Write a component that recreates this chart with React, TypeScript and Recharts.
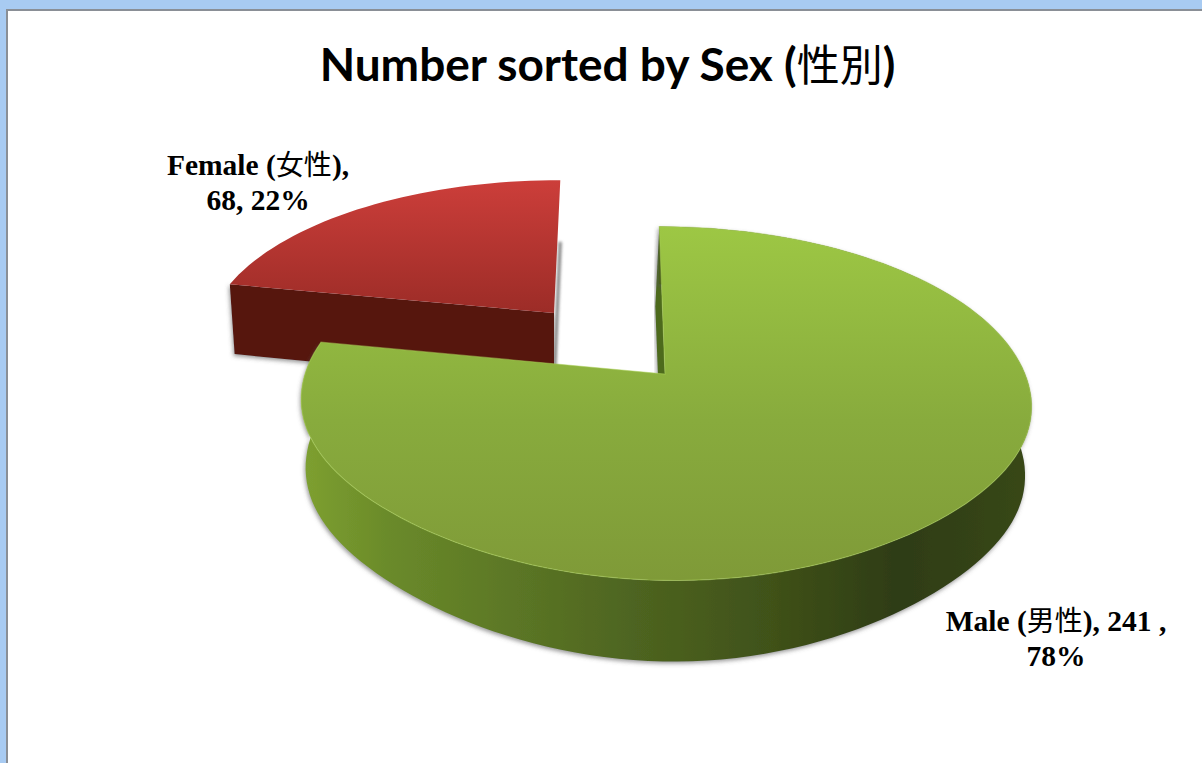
import { PieChart, Pie } from "recharts";

const categories = ["Female", "Male"];
const categoriesZh = ["女性", "男性"];
const counts = [68, 241];

const data = categories.map((name, i) => ({ name, zh: categoriesZh[i], value: counts[i] }));

const TITLE = "Number sorted by Sex (";
const TITLE_ZH = "性別";
const SERIF = '"Liberation Serif", serif';
const CJK = '"Noto Sans CJK JP", sans-serif';

// hand-fitted camera for each slice: ax/ay = slice tip, B/A = half sizes, k = perspective
const CAMERA: Record<string, any> = {
  Female: { ax: 554, ay: 313, B: 342, A: 155, k: 0.167, s: -6, h: 72, dx: 0, sx: 0.985 },
  Male: { ax: 665, ay: 374, B: 360, A: 172, k: 0.167, s: 8, h: 67.5, dx: -1, sx: 0.985 },
};

const project = (deg: number, r: number, cam: any, bottom = false) => {
  const t = (deg * Math.PI) / 180;
  const u = r * Math.sin(t);
  const v = -r * Math.cos(t);
  const w = 1 - cam.k * v;
  const px = (cam.B * u + cam.s * v) / w;
  // the source rim is a bit flatter on the two front corners than a true ellipse
  const corner = v > 0 ? u * u * v * v : 0;
  if (bottom) {
    return [cam.ax + cam.dx + cam.sx * px, cam.ay + (cam.A * v + cam.h) / w - 35 * corner];
  }
  return [cam.ax + px, cam.ay + (cam.A * v) / w - 18 * corner];
};

const arcPoints = (from: number, to: number, cam: any, bottom = false) => {
  const pts = [];
  const n = Math.ceil(Math.abs(to - from) / 2);
  for (let i = 0; i <= n; i++) pts.push(project(from + ((to - from) * i) / n, 1, cam, bottom));
  return pts;
};

const toPath = (pts: number[][], close = true) =>
  "M" + pts.map((p) => `${p[0].toFixed(1)} ${p[1].toFixed(1)}`).join("L") + (close ? "Z" : "");

// Recharts gives angles counter-clockwise from 3 o'clock, the camera wants clockwise from 12
const Slice3D = (props: any) => {
  const { startAngle, endAngle, name } = props;
  const cam = CAMERA[name];
  const a = 90 - startAngle;
  const b = 90 - endAngle;
  const topArc = arcPoints(a, b, cam);
  const bottomArc = arcPoints(a, b, cam, true);
  const tip = project(0, 0, cam);
  const tipLow = project(0, 0, cam, true);
  const key = name.toLowerCase();

  if (name === "Female") {
    const cut = toPath([tip, project(a, 1, cam), project(a, 1, cam, true), tipLow]);
    return (
      <g>
        {/* soft edge of the hidden back wall */}
        <path d={toPath([project(b, 1, cam, true), tipLow], false)} stroke="#777" strokeWidth={3} fill="none" filter="url(#blurEdge)" />
        <path d={cut} fill="#571611" filter="url(#sliceShadow)" />
        <path d={toPath([tip, ...topArc])} fill={`url(#${key}Top)`} />
      </g>
    );
  }

  const outer = project(a, 1, cam);
  const sliver = toPath([tip, outer, [outer[0] - 4, outer[1] + 80], [tip[0] - 4, tip[1] + 80]]);
  const band = toPath([...topArc, ...[...bottomArc].reverse()]);
  return (
    <g>
      <path d={sliver} fill="#4d6a1c" filter="url(#sliceShadow)" />
      <path d={band} fill={`url(#${key}Side)`} filter="url(#sliceShadow)" />
      <path
        d={toPath([tip, ...topArc])}
        fill={`url(#${key}Top)`}
        stroke="#a9cf58"
        strokeOpacity={0.5}
        strokeWidth={1.2}
      />
    </g>
  );
};

const LABELS: Record<string, any> = {
  Female: { x: 258, y: 175, breakAfterName: true },
  Male: { x: 1056, y: 631, breakAfterName: false },
};

const SliceLabel = (props: any) => {
  const { name, value, percent, payload } = props;
  const pos = LABELS[name];
  const pct = `${Math.round(percent * 100)}%`;
  const zh = payload?.zh ?? categoriesZh[categories.indexOf(name)];
  const head = pos.breakAfterName ? ")," : `), ${value} ,`;
  const second = pos.breakAfterName ? `${value}, ${pct}` : pct;
  return (
    <text
      x={pos.x}
      y={pos.y}
      textAnchor="middle"
      fontFamily={SERIF}
      fontWeight={700}
      fontSize={29.5}
      fill="#000"
    >
      <tspan>{name} (</tspan>
      <tspan fontFamily={CJK} fontWeight={400} fontSize={28}>
        {zh}
      </tspan>
      <tspan>{head}</tspan>
      <tspan x={pos.x} y={pos.y + 35}>
        {second}
      </tspan>
    </text>
  );
};

export default function App() {
  return (
    <div style={{ position: "fixed", left: 0, top: 0, width: 1202, height: 763, background: "#a8cbf2", overflow: "hidden" }}>
      <div
        style={{
          position: "absolute",
          left: 6,
          top: 9,
          width: 1196,
          height: 754,
          background: "#fff",
          borderLeft: "2px solid #8a8f96",
          borderTop: "2px solid #8a8f96",
          boxSizing: "border-box",
        }}
      />
      <div
        style={{
          position: "absolute",
          left: 0,
          top: 32,
          width: 1215,
          textAlign: "center",
          fontFamily: "Lato, sans-serif",
          fontWeight: 700,
          fontSize: 46,
          lineHeight: "60px",
          color: "#000",
          whiteSpace: "nowrap",
        }}
      >
        {TITLE}
        <span style={{ fontFamily: CJK, fontWeight: 400, fontSize: 43 }}>{TITLE_ZH}</span>)
      </div>
      <div style={{ position: "absolute", left: 0, top: 0 }}>
        <PieChart width={1202} height={763} margin={{ top: 0, right: 0, bottom: 0, left: 0 }}>
          <defs>
            <linearGradient id="maleTop" gradientUnits="userSpaceOnUse" x1="0" y1="227" x2="0" y2="580">
              <stop offset="0%" stopColor="#9dc744" />
              <stop offset="55%" stopColor="#88ab3d" />
              <stop offset="100%" stopColor="#7f9a38" />
            </linearGradient>
            <linearGradient id="maleSide" gradientUnits="userSpaceOnUse" x1="302" y1="0" x2="1030" y2="0">
              <stop offset="0%" stopColor="#7ea030" />
              <stop offset="12%" stopColor="#6a8a2a" />
              <stop offset="40%" stopColor="#526a22" />
              <stop offset="65%" stopColor="#3f5119" />
              <stop offset="82%" stopColor="#2e3c12" />
              <stop offset="100%" stopColor="#384819" />
            </linearGradient>
            <linearGradient id="femaleTop" gradientUnits="userSpaceOnUse" x1="0" y1="180" x2="0" y2="313">
              <stop offset="0%" stopColor="#cc3e3a" />
              <stop offset="100%" stopColor="#9c2c27" />
            </linearGradient>
            <filter id="sliceShadow" x="-10%" y="-10%" width="120%" height="120%">
              <feDropShadow dx="-1" dy="2" stdDeviation="2" floodColor="#555" floodOpacity="0.6" />
            </filter>
            <filter id="blurEdge" filterUnits="userSpaceOnUse" x="530" y="220" width="60" height="190">
              <feGaussianBlur stdDeviation="1.5" />
            </filter>
          </defs>
          <Pie
            data={data}
            dataKey="value"
            nameKey="name"
            cx={600}
            cy={380}
            outerRadius={200}
            startAngle={-191}
            endAngle={-551}
            stroke="none"
            isAnimationActive={false}
            shape={Slice3D}
            label={SliceLabel}
            labelLine={false}
          />
        </PieChart>
      </div>
    </div>
  );
}
